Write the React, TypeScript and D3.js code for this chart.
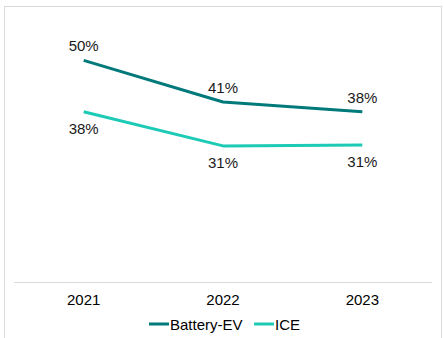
import React from "react";
import * as d3 from "d3";

const years = ["2021", "2022", "2023"];
const batteryEV = [50, 40.6, 38.4];
const ice = [38.4, 30.7, 30.9];
const seriesNames = ["Battery-EV", "ICE"];
const colors = ["#00797a", "#1ccab5"];

const W = 444;
const H = 338;

export default function App() {
  const x = d3.scaleBand<string>().domain(years).range([14, 432]).padding(0);
  const y = d3.scaleLinear().domain([0, 60]).range([282, 16]);
  const line = d3
    .line<number>()
    .x((_, i) => (x(years[i]) as number) + x.bandwidth() / 2)
    .y((d) => y(d));
  const series = [batteryEV, ice];
  const font = "'Liberation Sans', Arial, sans-serif";
  return (
    <svg
      width={W}
      height={H}
      style={{ position: "absolute", left: 0, top: 0, background: "#fff" }}
      fontFamily={font}
    >
      <rect x={4.5} y={6.5} width={437} height={340} fill="#fff" stroke="#d9d9d9" strokeWidth={1} />
      <line x1={14} x2={432} y1={282.5} y2={282.5} stroke="#d9d9d9" strokeWidth={1} />
      {years.map((yr) => (
        <text
          key={yr}
          x={(x(yr) as number) + x.bandwidth() / 2}
          y={305}
          textAnchor="middle"
          fontSize={15}
          fill="#000"
        >
          {yr}
        </text>
      ))}
      {series.map((s, si) => (
        <path
          key={si}
          d={line(s) || ""}
          fill="none"
          stroke={colors[si]}
          strokeWidth={3}
          strokeLinejoin="round"
        />
      ))}
      {series.map((s, si) =>
        s.map((v, i) => (
          <text
            key={si + "-" + i}
            x={(x(years[i]) as number) + x.bandwidth() / 2}
            y={si === 0 ? y(v) - 9 : y(v) + 22}
            textAnchor="middle"
            fontSize={15}
            fill="#1a1a1a"
          >
            {Math.round(v) + "%"}
          </text>
        ))
      )}
      <g>
        <line x1={149} x2={169} y1={324} y2={324} stroke={colors[0]} strokeWidth={3} />
        <text x={170} y={329.5} fontSize={15} fill="#000">
          {seriesNames[0]}
        </text>
        <line x1={254} x2={274} y1={324} y2={324} stroke={colors[1]} strokeWidth={3} />
        <text x={275} y={329.5} fontSize={15} fill="#000">
          {seriesNames[1]}
        </text>
      </g>
    </svg>
  );
}
